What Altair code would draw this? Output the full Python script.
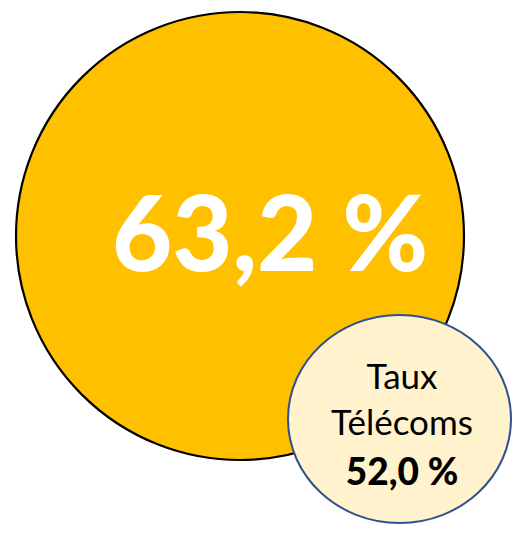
import altair as alt
import pandas as pd

# ---- data ----
labels = ["Taux global", "Taux Télécoms"]
values = [63.2, 52.0]
captions = ["", "Taux\nTélécoms"]

def fmt(v):
    return f"{v:.1f}".replace(".", ",") + " %"

# ---- layout (chart pixel coordinates) ----
W, H = 505, 517
big = dict(cx=232, cy=228, size=448 ** 2)
small = dict(cx=391.5, cy=411, size=223 ** 2, ratio=208 / 223)

k = 0.5523
b = small["ratio"]
ellipse = (
    f"M 1 0 C 1 {k*b:.4f} {k:.4f} {b:.4f} 0 {b:.4f} "
    f"C {-k:.4f} {b:.4f} -1 {k*b:.4f} -1 0 "
    f"C -1 {-k*b:.4f} {-k:.4f} {-b:.4f} 0 {-b:.4f} "
    f"C {k:.4f} {-b:.4f} 1 {-k*b:.4f} 1 0 Z"
)

xs = alt.Scale(domain=[0, W], range=[0, W])
ys = alt.Scale(domain=[0, H], range=[0, H])

df_big = pd.DataFrame({"label": [labels[0]], "value": [values[0]],
                       "x": [big["cx"]], "y": [big["cy"]], "txt": [fmt(values[0])],
                       "tx": [262], "ty": [263]})
df_small = pd.DataFrame({"label": [labels[1]], "value": [values[1]],
                         "x": [small["cx"]], "y": [small["cy"]]})
cap_lines = captions[1].split("\n")
df_small_txt = pd.DataFrame({
    "txt": cap_lines + [fmt(values[1])],
    "tx": [394, 394, 394],
    "ty": [381, 427, 477],
    "bold": ["normal", "normal", "bold"],
})

big_circle = alt.Chart(df_big).mark_point(
    shape="circle", filled=True, fill="#FFC000", stroke="#000000",
    strokeWidth=2.2, opacity=1, fillOpacity=1, strokeOpacity=1, size=big["size"]
).encode(
    x=alt.X("x:Q", scale=xs, axis=None),
    y=alt.Y("y:Q", scale=ys, axis=None),
)

big_text = alt.Chart(df_big).mark_text(
    font="Lato", fontWeight=900, fontSize=104, color="#FFFFFF",
    align="center", baseline="alphabetic"
).encode(
    x=alt.X("tx:Q", scale=xs, axis=None),
    y=alt.Y("ty:Q", scale=ys, axis=None),
    text="txt:N",
)

small_circle = alt.Chart(df_small).mark_point(
    shape=ellipse, filled=True, fill="#FFF2CC", stroke="#2F528F",
    strokeWidth=2, opacity=1, fillOpacity=1, strokeOpacity=1, size=small["size"]
).encode(
    x=alt.X("x:Q", scale=xs, axis=None),
    y=alt.Y("y:Q", scale=ys, axis=None),
)

small_text_regular = alt.Chart(df_small_txt[df_small_txt.bold == "normal"]).mark_text(
    font="Lato", fontSize=35, color="#000000", align="center", baseline="alphabetic"
).encode(
    x=alt.X("tx:Q", scale=xs, axis=None),
    y=alt.Y("ty:Q", scale=ys, axis=None),
    text="txt:N",
)
small_text_bold = alt.Chart(df_small_txt[df_small_txt.bold == "bold"]).mark_text(
    font="Lato", fontWeight=900, fontSize=37, color="#000000", align="center",
    baseline="alphabetic"
).encode(
    x=alt.X("tx:Q", scale=xs, axis=None),
    y=alt.Y("ty:Q", scale=ys, axis=None),
    text="txt:N",
)

chart = alt.layer(
    big_circle, big_text, small_circle, small_text_regular, small_text_bold
).properties(
    width=W, height=H, padding=0, autosize=alt.AutoSizeParams(type="none")
).configure_view(stroke=None)

chart.save("out.html", embed_options={"renderer": "svg", "actions": False})
